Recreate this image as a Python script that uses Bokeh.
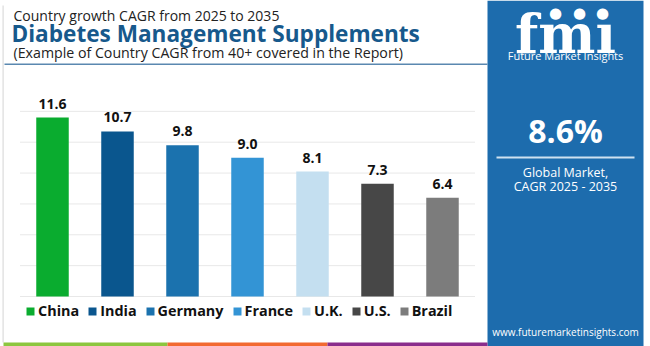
from bokeh.plotting import figure
from bokeh.models import (ColumnDataSource, Range1d, Label, BoxAnnotation,
                          Legend, LegendItem)
from bokeh.embed import file_html
from bokeh.resources import INLINE
from bokeh.core.properties import value

# ---- data ----
countries = ["China", "India", "Germany", "France", "U.K.", "U.S.", "Brazil"]
cagr = [11.6, 10.7, 9.8, 9.0, 8.1, 7.3, 6.4]
bar_colors = ["#0aac2f", "#0a568e", "#1b72ae", "#3394d5", "#c4dff0", "#474747", "#7c7c7c"]
labels = ["11.6", "10.7", "9.8", "9.0", "8.1", "7.3", "6.4"]
grid_ticks = [0, 2, 4, 6, 8, 10, 12]

subtitle_top = "Country growth CAGR from 2025 to 2035"
title_main = "Diabetes Management Supplements"
subtitle_bottom = "(Example of Country CAGR from 40+ covered in the Report)"
global_cagr = "8.6%"
global_text1 = "Global Market,"
global_text2 = "CAGR 2025 - 2035"
brand = "Future Market Insights"
url = "www.futuremarketinsights.com"

W, H = 650, 346
FL, FR, FT, FB = 19.5, 474.5, 80, 296   # bar area edges in canvas pixels
KX = (FR - FL) / len(countries)         # px per category
KY = (FB - FT) / 14.0                   # px per CAGR unit
FONT = "Open Sans"
TITLE_BLUE = "#17598c"
PANEL_BLUE = "#1d6cad"

def sx(x):
    return x

def sy(y):
    return H - y

xs = [i + 0.5 for i in range(len(countries))]
src = ColumnDataSource(dict(x=xs, country=countries, cagr=cagr, color=bar_colors, label=labels))

p = figure(width=W, height=H,
           x_range=Range1d(-FL / KX, (W - FL) / KX),
           y_range=Range1d(-(H - FB) / KY, FB / KY),
           output_backend="svg", toolbar_location=None,
           x_axis_location=None, y_axis_location=None,
           min_border=0)
p.outline_line_color = None
p.background_fill_color = "white"
p.border_fill_color = "white"
p.xgrid.grid_line_color = None
p.ygrid.grid_line_color = None

# grid lines across the bar area only
p.segment(x0=[0] * len(grid_ticks), x1=[len(countries)] * len(grid_ticks),
          y0=grid_ticks, y1=grid_ticks, line_color="#e8e8e8", line_width=1)

r = p.vbar(x="x", top="cagr", width=0.5, source=src, fill_color="color",
           line_color=None)

p.text(x="x", y="cagr", text="label", source=src, text_align="center",
       text_baseline="middle", y_offset=-14, text_font=value(FONT),
       text_font_style="bold", text_font_size="14px", text_color="#111111")

# ---- boxes (panel, lines, strips) ----
def box(l, r_, t, b, color):
    p.add_layout(BoxAnnotation(left=sx(l), right=sx(r_), top=sy(t), bottom=sy(b),
                               left_units="screen", right_units="screen",
                               top_units="screen", bottom_units="screen",
                               fill_color=color, fill_alpha=1, line_color=None,
                               level="underlay"))

box(487, 643, 0, 346, PANEL_BLUE)
box(4, 487, 63, 64.5, "#5a88b0")           # title underline
box(2, 3.2, 5, 342, "#dcdcdc")             # left border
box(3, 167, 342, 346, "#8cc63f")
box(167, 327, 342, 346, "#f26a31")
box(327, 487, 342, 346, "#8a2d8c")
box(496, 634, 156, 158, "#cfe1f0")         # line under 8.6%

# ---- legend ----
items = [LegendItem(label=c, renderers=[r], index=i) for i, c in enumerate(countries)]
legend = Legend(items=items, orientation="horizontal", location=(sx(25), sy(320)),
                glyph_width=10, glyph_height=10, label_standoff=3, spacing=8,
                padding=0, margin=0, border_line_color=None,
                background_fill_alpha=0, label_text_font=FONT,
                label_text_font_style="bold", label_text_font_size="14.4px",
                label_text_color="#111111", label_height=15)
p.add_layout(legend, "center")

# ---- texts ----
def label(x, y, text, size, color, style="normal", align="left", font=FONT,
          baseline="middle"):
    p.add_layout(Label(x=sx(x), y=sy(y), x_units="screen", y_units="screen",
                       text=text, text_font=font, text_font_size=size,
                       text_font_style=style, text_color=color, text_align=align,
                       text_baseline=baseline, level="overlay"))

label(13, 15, subtitle_top, "14px", "#222222")
label(11, 33, title_main, "22.6px", TITLE_BLUE, style="bold")
label(13, 52, subtitle_bottom, "14.2px", "#222222")

cx = 565
label(cx, 33, "fm\u0131", "54px", "white", style="bold", align="center",
      font="DejaVu Serif")
for icon_x in (555, 579, 602):
    label(icon_x, 12, "\u25cf", "15px", "white", align="center", font="DejaVu Sans")
label(cx, 55, brand, "11px", "white", align="center")
label(cx, 130, global_cagr, "32px", "white", style="bold", align="center")
label(cx, 172, global_text1, "12.5px", "white", align="center")
label(cx, 186, global_text2, "12.5px", "white", align="center")
label(cx, 331, url, "10px", "white", align="center")

open("out.html", "w").write(file_html(p, INLINE))
